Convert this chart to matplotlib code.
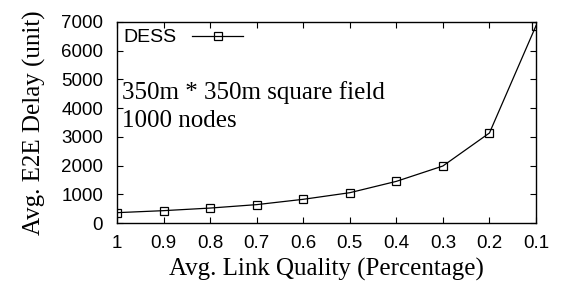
import matplotlib
matplotlib.use("Agg")
import matplotlib.pyplot as plt

# link quality (x, reversed) and average end-to-end delay
quality = [1.0, 0.9, 0.8, 0.7, 0.6, 0.5, 0.4, 0.3, 0.2, 0.1]
delay = [360, 430, 520, 640, 825, 1055, 1450, 1985, 3135, 6870]
xticks = [1, 0.9, 0.8, 0.7, 0.6, 0.5, 0.4, 0.3, 0.2, 0.1]
xticklabels = ["1", "0.9", "0.8", "0.7", "0.6", "0.5", "0.4", "0.3", "0.2", "0.1"]
yticks = [0, 1000, 2000, 3000, 4000, 5000, 6000, 7000]

sans = "Liberation Sans"
serif = "Liberation Serif"

fig = plt.figure(figsize=(5.62, 2.81), dpi=100)
ax = fig.add_axes([117 / 562, 1 - 223 / 281, (536 - 117) / 562, (223 - 22) / 281])

ax.plot(quality, delay, color="black", linewidth=0.9, marker="s", markersize=6,
        markerfacecolor="none", markeredgecolor="black", markeredgewidth=0.9,
        label="DESS")

ax.set_xlim(1, 0.1)
ax.set_ylim(0, 7000)
ax.set_xticks(xticks)
ax.set_xticklabels(xticklabels, fontfamily=sans, fontsize=13.5)
ax.set_yticks(yticks)
ax.set_yticklabels([str(v) for v in yticks], fontfamily=sans, fontsize=13.5)
ax.tick_params(direction="in", top=True, right=True, length=4, width=0.8)
ax.tick_params(axis="y", pad=10)
ax.tick_params(axis="x", pad=9)
for s in ax.spines.values():
    s.set_linewidth(1.0)

ax.set_xlabel("Avg. Link Quality (Percentage)", fontfamily=serif, fontsize=18, labelpad=4)
ax.set_ylabel("Avg. E2E Delay (unit)", fontfamily=serif, fontsize=18, labelpad=11)

ax.text(0.99, 4550, "350m * 350m square field", fontfamily=serif, fontsize=18,
        ha="left", va="center")
ax.text(0.99, 3550, "1000 nodes", fontfamily=serif, fontsize=18,
        ha="left", va="center")

leg = ax.legend(loc="upper left", frameon=False, prop={"family": sans, "size": 14},
                markerfirst=False, handlelength=2.6, borderaxespad=0.2,
                handletextpad=0.8, borderpad=0.15)

fig.savefig("out.png", dpi=100)
